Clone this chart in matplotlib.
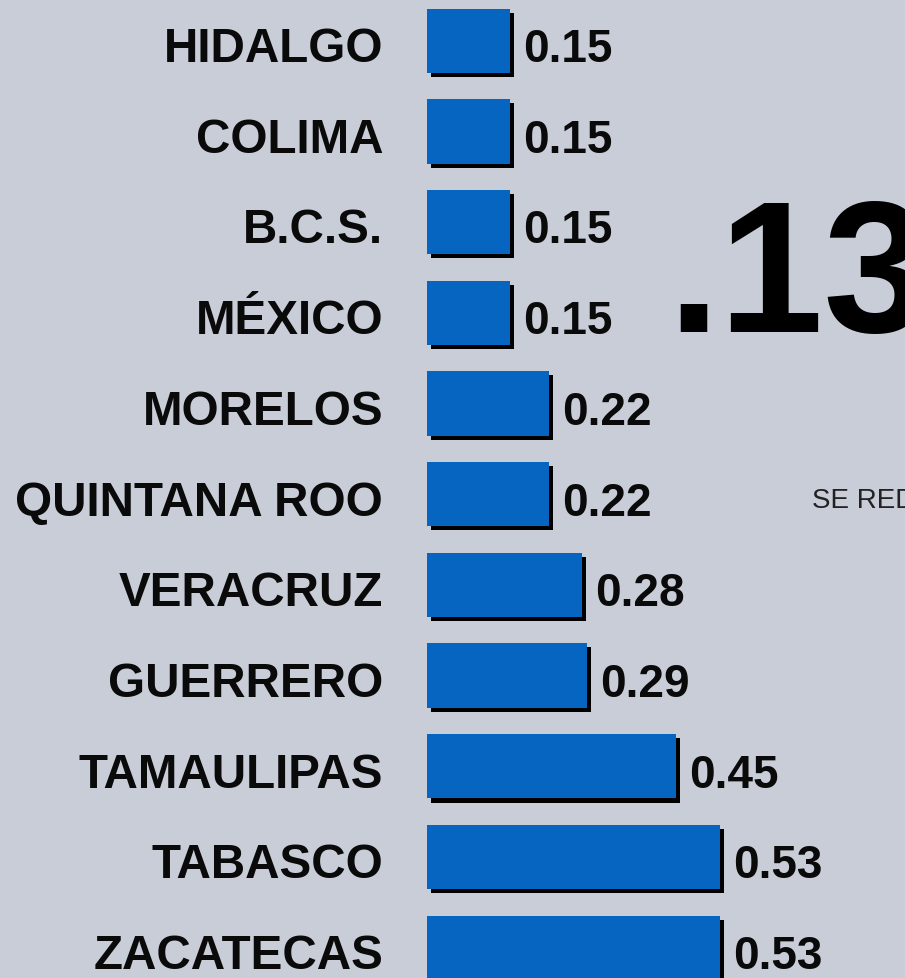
import matplotlib.pyplot as plt
import matplotlib.patheffects as pe
from matplotlib.textpath import TextPath
from matplotlib.font_manager import FontProperties

# state values (top to bottom)
states = ["HIDALGO", "COLIMA", "B.C.S.", "MÉXICO", "MORELOS", "QUINTANA ROO",
          "VERACRUZ", "GUERRERO", "TAMAULIPAS", "TABASCO", "ZACATECAS"]
values = [0.15, 0.15, 0.15, 0.15, 0.22, 0.22, 0.28, 0.29, 0.45, 0.53, 0.53]
big_number = ".13"
side_note = "SE RED"

bg = "#c8cdd8"
bar_color = "#0565c0"

plt.rcParams['font.family'] = ['Liberation Sans', 'DejaVu Sans']

W, H = 905, 979
PX_X = 553.0   # pixels per unit of value
PX_Y = 90.7    # pixels per row
fig = plt.figure(figsize=(W / 100, H / 100), dpi=100)
fig.patch.set_facecolor(bg)

ax = fig.add_axes([427 / W, 0, (W - 427) / W, 1])
ax.set_facecolor(bg)

pos = list(range(len(states)))
bars = ax.barh(pos, values, height=0.71, color=bar_color, zorder=3)
for b in bars:
    b.set_path_effects([pe.SimplePatchShadow(offset=(2.9, -2.9), shadow_rgbFace="black", alpha=1.0),
                        pe.Normal()])

ax.set_xlim(0, (W - 427) / PX_X)
ax.set_ylim((H - 41.7) / PX_Y, -41.7 / PX_Y)
ax.set_xticks([])
ax.set_yticks([])
for s in ax.spines.values():
    s.set_visible(False)

# baseline sits ~20px below bar centre
base = 20.3 / PX_Y
for i, (name, v) in enumerate(zip(states, values)):
    ax.text(-44 / PX_X, i + base, name, ha="right", va="baseline", fontsize=34.3,
            fontweight="bold", color="#0a0a0a", clip_on=False)
    ax.text(v + 13 / PX_X, i + base, f"{v:.2f}", ha="left", va="baseline", fontsize=33,
            fontweight="bold", color="#0a0a0a", clip_on=False)

# size the big number so the digit height is ~129 px
fp = FontProperties(family=['Liberation Sans', 'DejaVu Sans'], weight="bold")
ext = TextPath((0, 0), "1", size=100, prop=fp).get_extents()
digit_ratio = ext.height / 100.0
big_size = 129 / digit_ratio * 0.72
fig.text(667 / W, 1 - 332 / H, big_number, fontsize=big_size, fontweight="bold",
         color="black", va="baseline", ha="left")
fig.text(812 / W, 1 - 508 / H, side_note, fontsize=20, color="#222222",
         va="baseline", ha="left")

fig.savefig("out.png", dpi=100, facecolor=bg)
